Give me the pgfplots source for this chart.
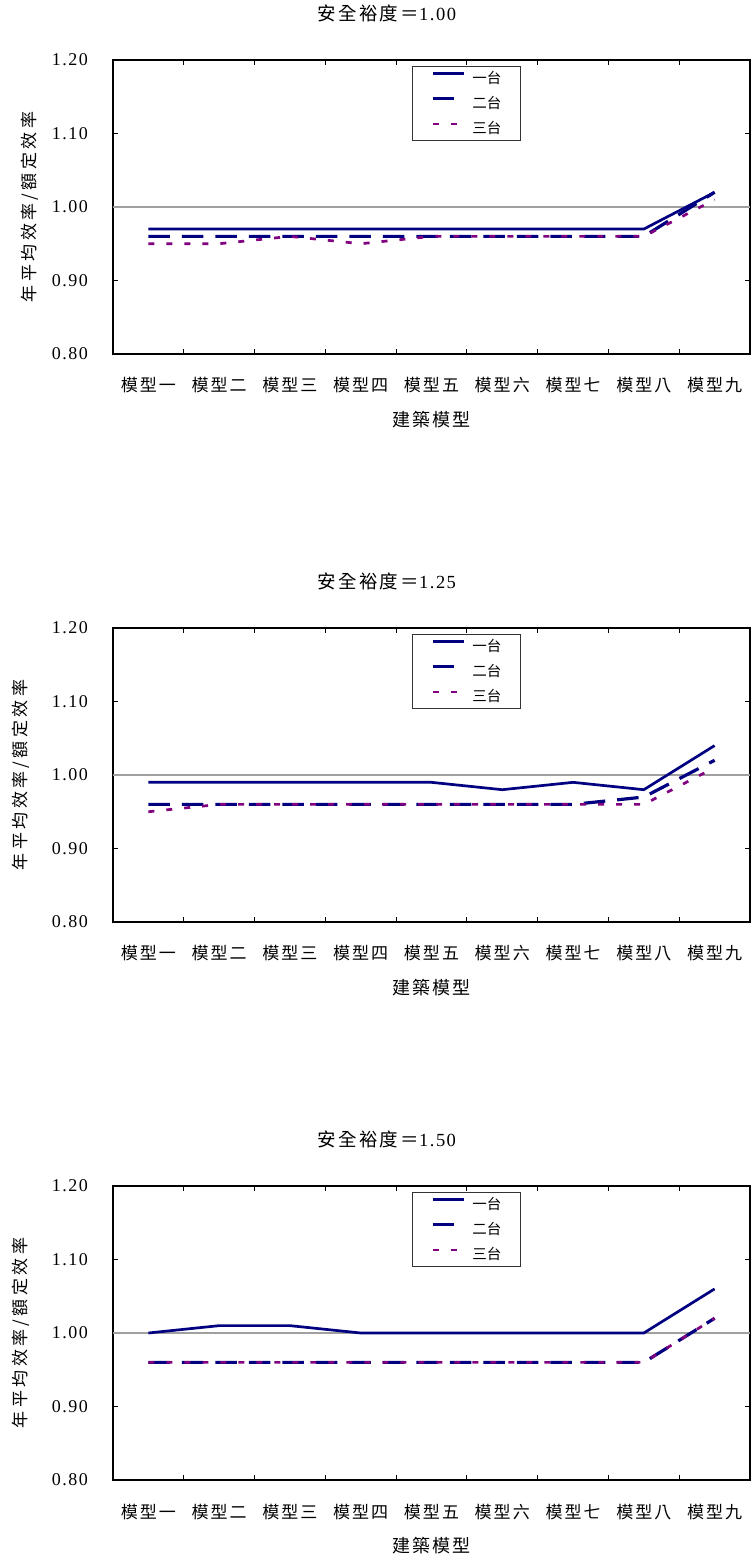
\documentclass[border=0pt]{standalone}
\usepackage{fontspec}
\usepackage{pgfplots}
\pgfplotsset{compat=1.18}
\setmainfont{Liberation Serif}
\newfontfamily\cjk{Noto Sans CJK TC}
\newfontfamily\cjkwide[LetterSpace=12]{Noto Sans CJK TC}
\newfontfamily\cjkaxis[LetterSpace=20]{Noto Sans CJK TC}
\newfontfamily\numwide[LetterSpace=8]{Liberation Serif}

\definecolor{seriesA}{HTML}{000080}
\definecolor{seriesB}{HTML}{000080}
\definecolor{seriesC}{HTML}{800080}
\definecolor{refgray}{HTML}{A0A0A0}

\pgfplotsset{
  panel/.style={
    scale only axis, width=637pt, height=294pt, anchor=south west,
    xmin=0.5, xmax=9.5, ymin=0.8, ymax=1.2,
    axis line style={line width=2.6pt, black},
    tick align=inside, major tick length=5pt,
    tick style={line width=0.8pt, black},
    xtick={1.5,2.5,3.5,4.5,5.5,6.5,7.5,8.5,9.5},
    xticklabels={{\cjkwide 模型一},{\cjkwide 模型二},{\cjkwide 模型三},{\cjkwide 模型四},{\cjkwide 模型五},{\cjkwide 模型六},{\cjkwide 模型七},{\cjkwide 模型八},{\cjkwide 模型九}},
    xticklabel style={anchor=base, inner sep=0pt, xshift=-35.4pt, yshift=-38pt, font=\fontsize{17}{17}\selectfont},
    ytick={0.8,0.9,1.0,1.1,1.2},
    yticklabel style={anchor=east, inner sep=0pt, xshift=-25pt, font=\fontsize{18}{18}\selectfont\numwide},
    /pgf/number format/fixed,
    /pgf/number format/fixed zerofill,
    /pgf/number format/precision=2,
    /pgf/number format/assume math mode=true,
    xlabel={\cjkwide 建築模型},
    xlabel style={at={(axis description cs:0.5,0)}, anchor=center, yshift=-66pt, font=\fontsize{18}{18}\selectfont},
    ylabel={\cjkaxis 年平均效率/額定效率},
    ylabel style={anchor=center, rotate=0, font=\fontsize{17}{17}\selectfont},
    title style={at={(axis description cs:0.430,1)}, anchor=center, yshift=41pt, font=\fontsize{18.5}{18.5}\selectfont},
    legend cell align=left,
    legend style={at={(0.469,0.98)}, anchor=north west, draw=black!80, line width=0.7pt,
      font=\fontsize{14.5}{14.5}\selectfont, inner xsep=19pt, inner ysep=5pt,
      row sep=11.5pt, column sep=7pt, nodes={inner sep=0pt}},
    legend image code/.code={\draw[##1] (0pt,4.5pt) -- (31pt,4.5pt);},
  },
  one/.style={color=seriesA, line width=2.7pt, solid},
  two/.style={color=seriesB, line width=3.2pt, dash pattern=on 21.5pt off 12pt},
  three/.style={color=seriesC, line width=2.7pt, dash pattern=on 6pt off 12pt},
  ref/.style={color=refgray, line width=1.2pt, forget plot},
}

\begin{document}
\begin{tikzpicture}
\useasboundingbox (0pt,0pt) rectangle (751pt,1557pt);

% Safety factor 1.00
\begin{axis}[panel, at={(113pt,1203pt)},
  ylabel style={at={(axis description cs:-0.130,0.5)}},
  title={{\cjkwide 安全裕度＝}{\numwide 1.00}}]
\addplot[ref] coordinates {(0.5,1.00) (9.5,1.00)};
\addplot[one] coordinates {(1,0.97) (2,0.97) (3,0.97) (4,0.97) (5,0.97) (6,0.97) (7,0.97) (8,0.97) (9,1.02)};
\addplot[two] coordinates {(1,0.96) (2,0.96) (3,0.96) (4,0.96) (5,0.96) (6,0.96) (7,0.96) (8,0.96) (9,1.02)};
\addplot[three] coordinates {(1,0.95) (2,0.95) (3,0.96) (4,0.95) (5,0.96) (6,0.96) (7,0.96) (8,0.96) (9,1.01)};
\legend{{\cjk 一台},{\cjk 二台},{\cjk 三台}}
\end{axis}

% Safety factor 1.25
\begin{axis}[panel, at={(113pt,635pt)},
  ylabel style={at={(axis description cs:-0.144,0.5)}},
  title={{\cjkwide 安全裕度＝}{\numwide 1.25}}]
\addplot[ref] coordinates {(0.5,1.00) (9.5,1.00)};
\addplot[one] coordinates {(1,0.99) (2,0.99) (3,0.99) (4,0.99) (5,0.99) (6,0.98) (7,0.99) (8,0.98) (9,1.04)};
\addplot[two] coordinates {(1,0.96) (2,0.96) (3,0.96) (4,0.96) (5,0.96) (6,0.96) (7,0.96) (8,0.97) (9,1.02)};
\addplot[three] coordinates {(1,0.95) (2,0.96) (3,0.96) (4,0.96) (5,0.96) (6,0.96) (7,0.96) (8,0.96) (9,1.01)};
\legend{{\cjk 一台},{\cjk 二台},{\cjk 三台}}
\end{axis}

% Safety factor 1.50
\begin{axis}[panel, at={(113pt,77pt)},
  ylabel style={at={(axis description cs:-0.144,0.5)}},
  title={{\cjkwide 安全裕度＝}{\numwide 1.50}}]
\addplot[ref] coordinates {(0.5,1.00) (9.5,1.00)};
\addplot[one] coordinates {(1,1.00) (2,1.01) (3,1.01) (4,1.00) (5,1.00) (6,1.00) (7,1.00) (8,1.00) (9,1.06)};
\addplot[two] coordinates {(1,0.96) (2,0.96) (3,0.96) (4,0.96) (5,0.96) (6,0.96) (7,0.96) (8,0.96) (9,1.02)};
\addplot[three] coordinates {(1,0.96) (2,0.96) (3,0.96) (4,0.96) (5,0.96) (6,0.96) (7,0.96) (8,0.96) (9,1.02)};
\legend{{\cjk 一台},{\cjk 二台},{\cjk 三台}}
\end{axis}
\end{tikzpicture}
\end{document}
